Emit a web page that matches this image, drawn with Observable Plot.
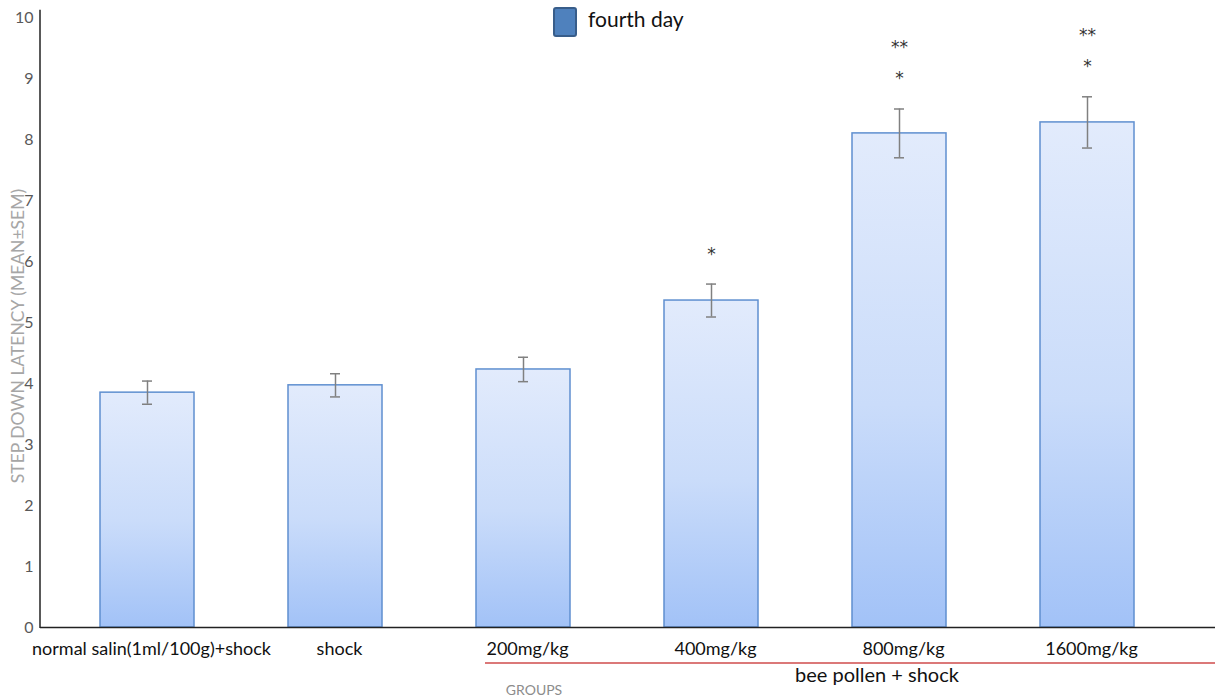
<!DOCTYPE html>
<html>
<head>
<meta charset="utf-8">
<script src="https://cdn.jsdelivr.net/npm/d3@7"></script>
<script src="https://cdn.jsdelivr.net/npm/@observablehq/plot@0.6"></script>
<style>
  html, body { margin: 0; padding: 0; background: #fff; }
  #wrap { position: relative; width: 1215px; height: 700px; font-family: Lato, "Open Sans", sans-serif; }
  #legend { position: absolute; left: 553px; top: 7px; display: flex; align-items: flex-start; }
  #legend .sw { width: 20px; height: 26px; background: #4f81bd; border: 2px solid #385d8a; border-radius: 3px; }
  #legend .lb { margin-left: 11px; font-size: 21px; line-height: 24px; color: #111; }
</style>
</head>
<body>
<div id="wrap">
  <div id="chart"></div>
  <div id="legend"><div class="sw"></div><div class="lb">fourth day</div></div>
</div>
<script>
const groups = ["normal salin(1ml/100g)+shock", "shock", "200mg/kg", "400mg/kg", "800mg/kg", "1600mg/kg"];
const means = [3.85, 3.97, 4.23, 5.36, 8.10, 8.28];
const sems = [0.19, 0.19, 0.20, 0.27, 0.40, 0.42];
const singleStars = ["", "", "", "*", "*", "*"];
const doubleStars = ["", "", "", "", "**", "**"];
const yTicks = [0, 1, 2, 3, 4, 5, 6, 7, 8, 9, 10];
const yTitle = "STEP DOWN LATENCY (MEAN±SEM)";
const xTitle = "GROUPS";
const bracketLabel = "bee pollen + shock";
const bracketGroups = ["200mg/kg", "1600mg/kg"];

const data = groups.map((g, i) => ({
  group: g, mean: means[i], sem: sems[i],
  lo: means[i] - sems[i], hi: means[i] + sems[i],
  s1: singleStars[i], s2: doubleStars[i]
}));

const FONT = "Lato, 'Open Sans', sans-serif";

const plot = Plot.plot({
  width: 1215,
  height: 700,
  marginTop: 17,
  marginBottom: 73,
  marginLeft: 40,
  marginRight: 0,
  style: { fontFamily: FONT, background: "#fff" },
  x: { domain: groups, range: [40, 1193], paddingInner: 0.5, paddingOuter: 0.31, label: null },
  y: { domain: [0, 10], label: null },
  marks: [
    Plot.barY(data, { x: "group", y: "mean", fill: "url(#barGrad)", stroke: "#5f8fd0", strokeWidth: 1.5 }),
    Plot.ruleX(data, { x: "group", y1: "lo", y2: "hi", stroke: "#808080", strokeWidth: 1.5 }),
    Plot.tickY(data, { x: "group", y: "lo", stroke: "#808080", strokeWidth: 1.5, inset: 42 }),
    Plot.tickY(data, { x: "group", y: "hi", stroke: "#808080", strokeWidth: 1.5, inset: 42 }),
    Plot.text(data, { x: "group", y: "hi", text: "s1", dy: -30, fontSize: 17, fill: "#333", fontFamily: "DejaVu Sans" }),
    Plot.text(data, { x: "group", y: "hi", text: "s2", dy: -61, fontSize: 17, fill: "#333", fontFamily: "DejaVu Sans" }),
    Plot.ruleY([0], { stroke: "#222", strokeWidth: 1.5 }),
    Plot.axisY({ ticks: yTicks, tickSize: 0, tickPadding: 7, fontSize: 16, fill: "#595959", label: null }),
    Plot.axisX({ tickSize: 0, tickPadding: 15, fontSize: 18, fill: "#111", label: null, dx: 4 })
  ]
});

const svg = d3.select(plot);
const defs = svg.insert("defs", ":first-child");
const grad = defs.append("linearGradient").attr("id", "barGrad")
  .attr("x1", 0).attr("y1", 0).attr("x2", 0).attr("y2", 1);
grad.append("stop").attr("offset", "0%").attr("stop-color", "#e2ebfc");
grad.append("stop").attr("offset", "55%").attr("stop-color", "#cadcfa");
grad.append("stop").attr("offset", "100%").attr("stop-color", "#a2c2f7");

const xs = plot.scale("x");
const ys = plot.scale("y");
const bw = xs.bandwidth;
const xStart = xs.apply(bracketGroups[0]) + 9;
const xMid = (xs.apply("400mg/kg") + xs.apply("800mg/kg")) / 2 + bw / 2 + 72;
const y0 = ys.apply(0);

// y axis line
svg.append("line").attr("x1", 40).attr("x2", 40)
  .attr("y1", ys.apply(10.12)).attr("y2", y0 + 1)
  .attr("stroke", "#222").attr("stroke-width", 1.5);

svg.append("line").attr("x1", xStart).attr("x2", 1215)
  .attr("y1", y0 + 36).attr("y2", y0 + 36)
  .attr("stroke", "#cf4b4b").attr("stroke-width", 1.3);
svg.append("text").attr("x", xMid).attr("y", y0 + 55)
  .attr("text-anchor", "middle").attr("font-size", 20).attr("fill", "#111")
  .attr("font-family", FONT).text(bracketLabel);
svg.append("text").attr("x", xs.apply("200mg/kg") + bw / 2 + 11).attr("y", y0 + 68)
  .attr("text-anchor", "middle").attr("font-size", 14).attr("fill", "#8c8c8c")
  .attr("font-family", FONT).text(xTitle);
svg.append("text")
  .attr("transform", `translate(24, ${(ys.apply(0) + ys.apply(10)) / 2 + 14}) rotate(-90)`)
  .attr("text-anchor", "middle").attr("font-size", 17.5).attr("fill", "#a6a6a6")
  .attr("font-family", FONT).text(yTitle);

document.getElementById("chart").appendChild(plot);
</script>
</body>
</html>
